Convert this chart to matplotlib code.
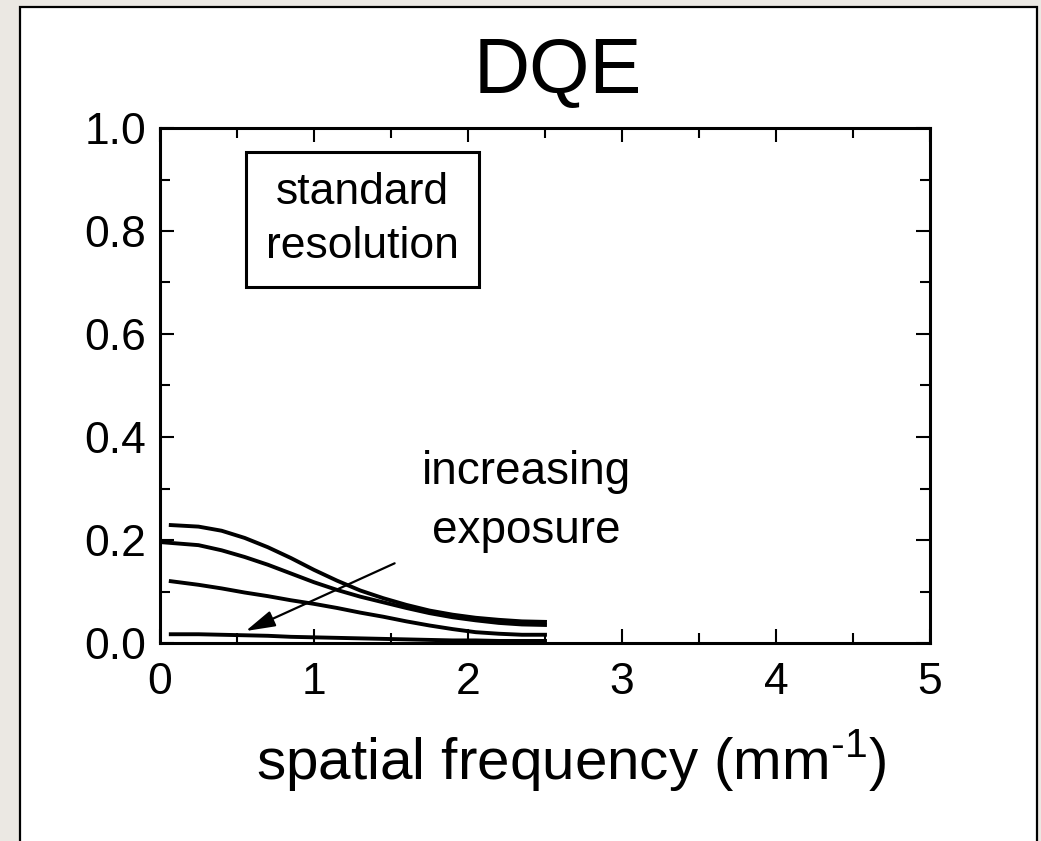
import matplotlib
matplotlib.use("Agg")
import matplotlib.pyplot as plt
from matplotlib.patches import Rectangle
from matplotlib.ticker import MultipleLocator

plt.rcParams['font.family'] = ['Liberation Sans', 'DejaVu Sans']
plt.rcParams['mathtext.fontset'] = 'custom'
plt.rcParams['mathtext.rm'] = 'Liberation Sans'

# DQE curves (standard resolution), four exposure levels
freq = [0.07, 0.25, 0.4, 0.55, 0.7, 0.85, 1.0, 1.15, 1.3, 1.45, 1.6, 1.75, 1.9, 2.05, 2.2, 2.35, 2.5]
freq_b = [0.0, 0.25, 0.4, 0.55, 0.7, 0.85, 1.0, 1.15, 1.3, 1.45, 1.6, 1.75, 1.9, 2.05, 2.2, 2.35, 2.5]
dqe_high = [0.229, 0.226, 0.218, 0.204, 0.186, 0.165, 0.142, 0.121, 0.102, 0.087, 0.074, 0.063, 0.055, 0.049, 0.045, 0.042, 0.041]
dqe_mid = [0.196, 0.190, 0.180, 0.167, 0.152, 0.135, 0.118, 0.103, 0.090, 0.079, 0.068, 0.058, 0.050, 0.044, 0.039, 0.036, 0.035]
dqe_low = [0.120, 0.113, 0.106, 0.098, 0.091, 0.083, 0.076, 0.068, 0.059, 0.051, 0.042, 0.034, 0.027, 0.021, 0.018, 0.016, 0.016]
dqe_min = [0.017, 0.017, 0.016, 0.015, 0.014, 0.012, 0.011, 0.010, 0.009, 0.008, 0.007, 0.006, 0.005, 0.005, 0.004, 0.004, 0.004]

x_ticks = [0, 1, 2, 3, 4, 5]
y_ticks = [0.0, 0.2, 0.4, 0.6, 0.8, 1.0]

W, H = 1041, 841
fig = plt.figure(figsize=(W / 100, H / 100), dpi=100)
fig.patch.set_facecolor('#ebe8e3')
# white slide panel behind the axes
fig.patches.append(Rectangle((20 / W, -0.01), 1017 / W, (H - 7) / H + 0.01, transform=fig.transFigure,
                             facecolor='white', edgecolor='black', linewidth=1.6, zorder=-5))

ax = fig.add_axes([160 / W, 1 - 643 / H, 770 / W, 515 / H])
ax.set_facecolor('white')

lw = 2.8
ax.plot(freq, dqe_high, color='black', lw=lw)
ax.plot(freq_b, dqe_mid, color='black', lw=lw)
ax.plot(freq, dqe_low, color='black', lw=lw)
ax.plot(freq, dqe_min, color='black', lw=lw)

ax.set_xlim(0, 5)
ax.set_ylim(0, 1.0)
ax.set_xticks(x_ticks)
ax.set_xticklabels([str(t) for t in x_ticks], fontsize=32)
ax.set_yticks(y_ticks)
ax.set_yticklabels([f'{t:.1f}' for t in y_ticks], fontsize=32)
ax.xaxis.set_minor_locator(MultipleLocator(0.5))
ax.yaxis.set_minor_locator(MultipleLocator(0.1))
ax.tick_params(which='both', direction='in', top=True, right=True, width=1.5)
ax.tick_params(which='major', length=10)
ax.tick_params(which='minor', length=7)
ax.tick_params(axis='y', pad=10)
ax.tick_params(axis='x', pad=14)
for s in ax.spines.values():
    s.set_linewidth(2.2)

ax.set_title('DQE', fontsize=56, pad=25, x=0.516)
fig.text(571 / W, 1 - 780 / H, r'spatial frequency (mm$^{\text{-1}}$)', fontsize=42,
         ha='center', va='baseline')

ax.text(1.315, 0.822, 'standard\nresolution', fontsize=32, ha='center', va='center',
        linespacing=1.4,
        bbox=dict(boxstyle='square,pad=0.45', facecolor='white', edgecolor='black', linewidth=2.2))

ax.text(2.38, 0.275, 'increasing\nexposure', fontsize=33, ha='center', va='center', linespacing=1.45)
ax.annotate('', xy=(0.54, 0.021), xytext=(1.54, 0.157),
            arrowprops=dict(arrowstyle='-|>,head_length=1.8,head_width=0.5', color='black', lw=1.6))

fig.savefig('out.png', dpi=100, facecolor=fig.get_facecolor())
